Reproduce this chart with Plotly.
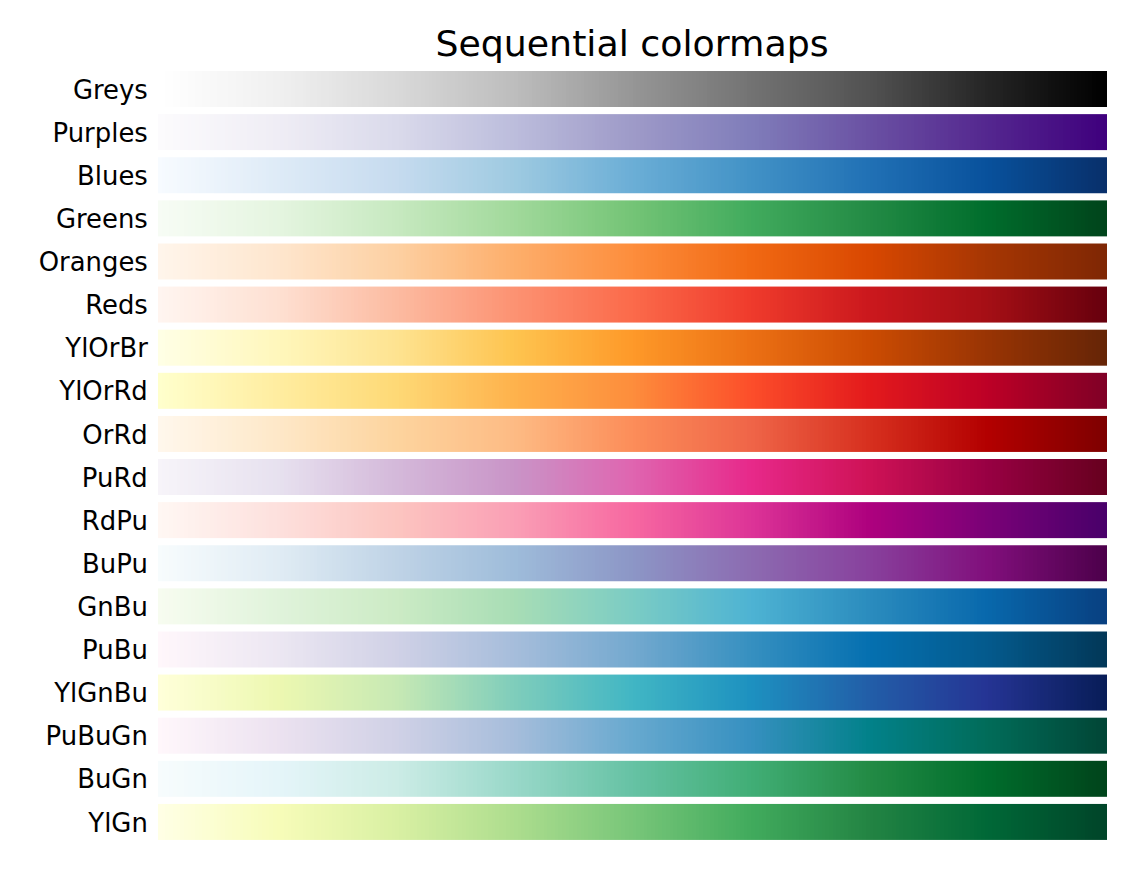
import plotly.graph_objects as go

NAMES = ["Greys", "Purples", "Blues", "Greens", "Oranges", "Reds", "YlOrBr", "YlOrRd", "OrRd",
         "PuRd", "RdPu", "BuPu", "GnBu", "PuBu", "YlGnBu", "PuBuGn", "BuGn", "YlGn"]

STOPS = {
    "Greys": ["#FFFFFF", "#F0F0F0", "#D9D9D9", "#BDBDBD", "#969696", "#737373", "#525252", "#252525", "#000000"],
    "Purples": ["#FCFBFD", "#EFEDF5", "#DADAEB", "#BCBDDC", "#9E9AC8", "#807DBA", "#6A51A3", "#54278F", "#3F007D"],
    "Blues": ["#F7FBFF", "#DEEBF7", "#C6DBEF", "#9ECAE1", "#6BAED6", "#4292C6", "#2171B5", "#08519C", "#08306B"],
    "Greens": ["#F7FCF5", "#E5F5E0", "#C7E9C0", "#A1D99B", "#74C476", "#41AB5D", "#238B45", "#006D2C", "#00441B"],
    "Oranges": ["#FFF5EB", "#FEE6CE", "#FDD0A2", "#FDAE6B", "#FD8D3C", "#F16913", "#D94801", "#A63603", "#7F2704"],
    "Reds": ["#FFF5F0", "#FEE0D2", "#FCBBA1", "#FC9272", "#FB6A4A", "#EF3B2C", "#CB181D", "#A50F15", "#67000D"],
    "YlOrBr": ["#FFFFE5", "#FFF7BC", "#FEE391", "#FEC44F", "#FE9929", "#EC7014", "#CC4C02", "#993404", "#662506"],
    "YlOrRd": ["#FFFFCC", "#FFEDA0", "#FED976", "#FEB24C", "#FD8D3C", "#FC4E2A", "#E31A1C", "#BD0026", "#800026"],
    "OrRd": ["#FFF7EC", "#FEE8C8", "#FDD49E", "#FDBB84", "#FC8D59", "#EF6548", "#D7301F", "#B30000", "#7F0000"],
    "PuRd": ["#F7F4F9", "#E7E1EF", "#D4B9DA", "#C994C7", "#DF65B0", "#E7298A", "#CE1256", "#980043", "#67001F"],
    "RdPu": ["#FFF7F3", "#FDE0DD", "#FCC5C0", "#FA9FB5", "#F768A1", "#DD3497", "#AE017E", "#7A0177", "#49006A"],
    "BuPu": ["#F7FCFD", "#E0ECF4", "#BFD3E6", "#9EBCDA", "#8C96C6", "#8C6BB1", "#88419D", "#810F7C", "#4D004B"],
    "GnBu": ["#F7FCF0", "#E0F3DB", "#CCEBC5", "#A8DDB5", "#7BCCC4", "#4EB3D3", "#2B8CBE", "#0868AC", "#084081"],
    "PuBu": ["#FFF7FB", "#ECE7F2", "#D0D1E6", "#A6BDDB", "#74A9CF", "#3690C0", "#0570B0", "#045A8D", "#023858"],
    "YlGnBu": ["#FFFFD9", "#EDF8B1", "#C7E9B4", "#7FCDBB", "#41B6C4", "#1D91C0", "#225EA8", "#253494", "#081D58"],
    "PuBuGn": ["#FFF7FB", "#ECE2F0", "#D0D1E6", "#A6BDDB", "#67A9CF", "#3690C0", "#02818A", "#016C59", "#014636"],
    "BuGn": ["#F7FCFD", "#E5F5F9", "#CCECE6", "#99D8C9", "#66C2A4", "#41AE76", "#238B45", "#006D2C", "#00441B"],
    "YlGn": ["#FFFFE5", "#F7FCB9", "#D9F0A3", "#ADDD8E", "#78C679", "#41AB5D", "#238443", "#006837", "#004529"],
}

LEVELS = list(range(256))  # the 0-255 lookup-table entries of a colormap
ROWS = list(range(len(NAMES)))

fig = go.Figure()
for row, name in zip(ROWS, NAMES):
    stops = STOPS[name]
    scale = [[i / (len(stops) - 1), c] for i, c in enumerate(stops)]
    fig.add_trace(go.Heatmap(z=[LEVELS], x=LEVELS, y0=row, dy=1, colorscale=scale,
                             zmin=0, zmax=255, showscale=False, ygap=7, hoverinfo="skip"))

W, H = 1136, 881  # the page body adds an 8 px margin on the left and top
fig.update_layout(
    width=W, height=H, autosize=False,
    paper_bgcolor="white", plot_bgcolor="white",
    margin=dict(l=150, r=37, t=59.5, b=44.5, pad=0),
    font=dict(family="DejaVu Sans", color="black"),
    title=dict(text="Sequential colormaps", font=dict(size=36.3, family="DejaVu Sans", color="black"),
               x=624 / W, xanchor="center", y=1 - 35 / H, yanchor="middle"),
    xaxis=dict(visible=False, range=[-0.5, 255.5]),
    yaxis=dict(range=[17.5, -0.5], tickmode="array", tickvals=ROWS, ticktext=NAMES,
               showgrid=False, zeroline=False, showline=False,
               ticks="outside", ticklen=4, tickwidth=0, tickcolor="white",
               tickfont=dict(size=25.9, family="DejaVu Sans", color="black")),
)
fig.write_html("out.html", config=dict(displayModeBar=False))
